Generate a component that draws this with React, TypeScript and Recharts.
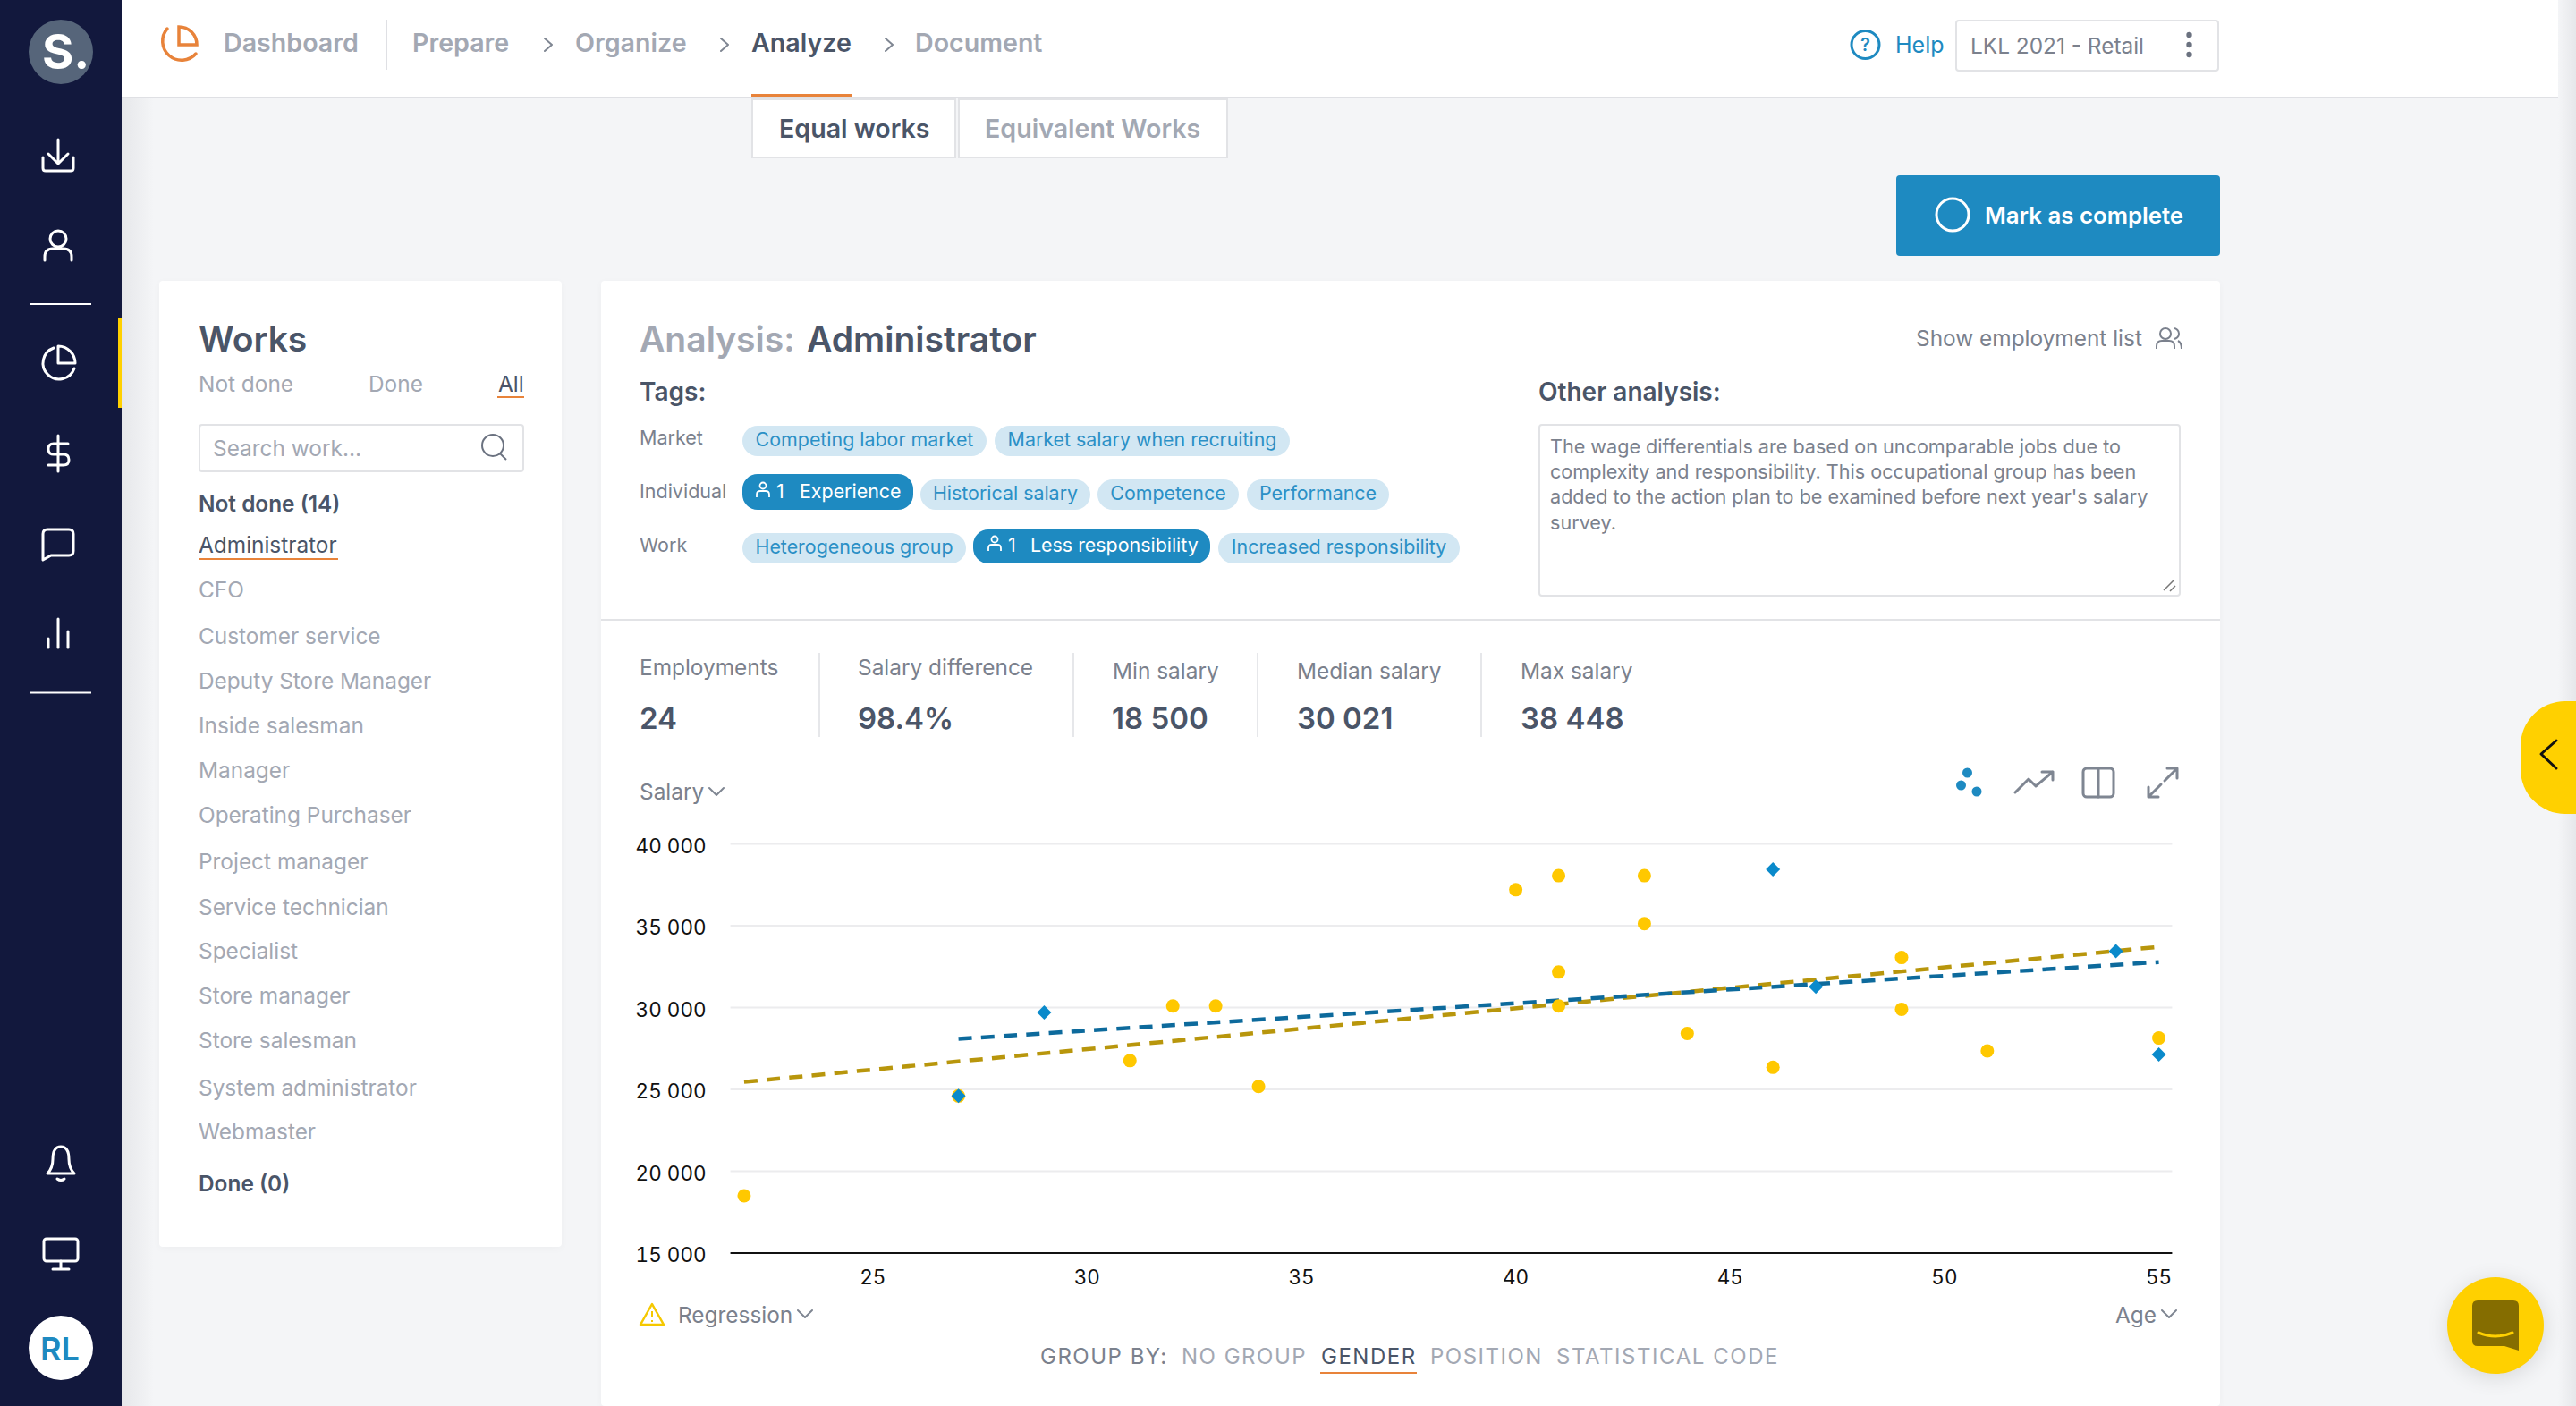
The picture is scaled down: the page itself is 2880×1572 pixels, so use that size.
import React from 'react';
import { ComposedChart, Scatter, Line, XAxis, YAxis, CartesianGrid } from 'recharts';

// Scatter values (age, salary), one pair of lists per group
const yellowAges = [22, 27, 31, 32, 33, 34, 40, 41, 41, 41, 43, 43, 44, 46, 49, 49, 51, 55];
const yellowSalaries = [18500, 24600, 26760, 30100, 30100, 25180, 37200, 38060, 32170, 30100, 38060, 35130, 28420, 26350, 33060, 29900, 27350, 28140];
const blueAges = [27, 29, 46, 47, 54, 55];
const blueSalaries = [24600, 29700, 38448, 31280, 33440, 27140];

// Regression lines, end points only
const yellowTrendAges = [22, 55];
const yellowTrendSalaries = [25460, 33710];
const blueTrendAges = [27, 55];
const blueTrendSalaries = [28090, 32780];

const ageTicks = [25, 30, 35, 40, 45, 50, 55];
const salaryTicks = [15000, 20000, 25000, 30000, 35000, 40000];

const works = ['CFO', 'Customer service', 'Deputy Store Manager', 'Inside salesman', 'Manager', 'Operating Purchaser', 'Project manager', 'Service technician', 'Specialist', 'Store manager', 'Store salesman', 'System administrator', 'Webmaster'];
const workRows = [659, 711, 761, 811, 861, 911, 963, 1014, 1063, 1113, 1163, 1216, 1265];

const toRows = (xs: number[], ys: number[]) => xs.map((age, i) => ({ age, salary: ys[i] }));
const spaced = (v: number) => String(v).replace(/\B(?=(\d{3})+$)/g, ' ');

const FONT = 'Inter, sans-serif';
const DARK = '#4a5568';
const GREY = '#a3a8b3';
const MID = '#7b818d';
const BLUE = '#1e8ac1';
const ORANGE = '#e8833a';
const YELLOW = '#ffd000';

function T({ x, y, s = 24.4, w = 400, c = GREY, ls = 0, children }: any) {
  return (
    <div style={{ position: 'absolute', left: x, top: y, transform: 'translateY(-50%)', fontSize: s, fontWeight: w, color: c, letterSpacing: ls, whiteSpace: 'nowrap', lineHeight: 1 }}>
      {children}
    </div>
  );
}

function Box({ x, y, w, h, style }: any) {
  return <div style={{ position: 'absolute', left: x, top: y, width: w, height: h, boxSizing: 'border-box', ...style }} />;
}

function Pill({ x, y, w, h = 34, dark = false, children }: any) {
  return (
    <div style={{ position: 'absolute', left: x, top: y, width: w, height: h, borderRadius: 17, background: dark ? BLUE : '#d2e7f3', color: dark ? '#fff' : '#2b90c6', fontSize: 21.4, lineHeight: h - 3 + 'px', textAlign: 'center', whiteSpace: 'nowrap' }}>
      {children}
    </div>
  );
}

const Dot = (p: any) => <circle cx={p.cx} cy={p.cy} r={7.5} fill="#ffc800" />;
const Diamond = (p: any) => <path d={`M${p.cx} ${p.cy - 8}L${p.cx + 8} ${p.cy}L${p.cx} ${p.cy + 8}L${p.cx - 8} ${p.cy}Z`} fill="#0a8acb" />;

function Chart() {
  const tickFont = { fill: '#111', fontSize: 22.5, fontFamily: FONT, style: { fontVariantNumeric: 'tabular-nums' } };
  return (
    <div style={{ position: 'absolute', left: 700, top: 920 }}>
      <ComposedChart width={1760} height={560} margin={{ top: 23.6, right: 31.6, bottom: 39, left: 0 }}>
        <CartesianGrid vertical={false} stroke="#ececee" strokeWidth={2} />
        <XAxis type="number" dataKey="age" domain={[21.68, 55.31]} ticks={ageTicks} allowDataOverflow height={40} tickLine={false} tickSize={0} tickMargin={19} axisLine={{ stroke: '#111', strokeWidth: 2 }} tick={tickFont} />
        <YAxis type="number" dataKey="salary" domain={[15000, 40000]} ticks={salaryTicks} width={116.6} axisLine={false} tickLine={false} tickSize={0} tickMargin={27} tickFormatter={spaced} tick={{ ...tickFont, dy: 2 }} />
        <Line data={toRows(yellowTrendAges, yellowTrendSalaries)} dataKey="salary" stroke="#b8960c" strokeWidth={4.5} strokeDasharray="15 10.3" dot={false} isAnimationActive={false} />
        <Line data={toRows(blueTrendAges, blueTrendSalaries)} dataKey="salary" stroke="#0d6a9c" strokeWidth={4.5} strokeDasharray="15 10.3" dot={false} isAnimationActive={false} />
        <Scatter data={toRows(yellowAges, yellowSalaries)} dataKey="salary" shape={Dot} isAnimationActive={false} />
        <Scatter data={toRows(blueAges, blueSalaries)} dataKey="salary" shape={Diamond} isAnimationActive={false} />
      </ComposedChart>
    </div>
  );
}

function Icons() {
  const side = { fill: 'none', stroke: '#fff', strokeWidth: 3, strokeLinecap: 'round', strokeLinejoin: 'round' } as any;
  const grey = { fill: 'none', stroke: '#7f8692', strokeWidth: 3, strokeLinecap: 'round', strokeLinejoin: 'round' } as any;
  const chev = { fill: 'none', stroke: '#7f8692', strokeWidth: 2, strokeLinecap: 'round', strokeLinejoin: 'round' } as any;
  return (
    <svg width={2880} height={1572} style={{ position: 'absolute', left: 0, top: 0 }}>
      {/* sidebar */}
      <g {...side}>
        <path d="M65 156V182M54 172L65 183L76 172M48 176V188Q48 191 51 191H79Q82 191 82 188V176" />
        <circle cx={65} cy={267} r={9} />
        <path d="M50 291V287Q50 278 59 278H71Q80 278 80 287V291" />
        <path d="M60 389A18 18 0 1 0 83 412" />
        <path d="M65 387V406H84A19 19 0 0 0 65 387Z" />
        <path d="M76 496H60Q54 496 54 502Q54 508 60 508H71Q77 508 77 514Q77 520 71 520H54M65 487V527" />
        <path d="M53 592H77Q82 592 82 597V616Q82 621 77 621H57L48 626V597Q48 592 53 592Z" />
        <path d="M54 714V724M65 692V724M76 706V724" />
        <path d="M53 1312H83Q77 1306 77 1296Q77 1282 68 1282Q59 1282 59 1296Q59 1306 53 1312ZM64 1318Q68 1321 72 1318" />
        <rect x={49} y={1385} width={38} height={25} rx={3} />
        <path d="M68 1410V1419M59 1419H77" />
      </g>
      <path d="M34 340H102M34 774.5H102" stroke="#fff" strokeWidth={2} />
      <path d="M187 32A20 20 0 1 0 219 60" fill="none" stroke={ORANGE} strokeWidth={3.5} strokeLinecap="round" />
      <path d="M200 30V50H220A20 20 0 0 0 200 30Z" fill="none" stroke={ORANGE} strokeWidth={3.5} />
      {/* breadcrumb chevrons */}
      <g {...chev}>
        <path d="M609 43L617 50L609 57M806 43L814 50L806 57M990 43L998 50L990 57" />
      </g>
      {/* search, help */}
      <circle cx={551} cy={498} r={12} fill="none" stroke="#6b7280" strokeWidth={2} />
      <path d="M559 507L566 514" stroke="#6b7280" strokeWidth={2} />
      <circle cx={2085.5} cy={50} r={15.5} fill="none" stroke={BLUE} strokeWidth={3} />
      <text x={2085.5} y={57} textAnchor="middle" fontSize={20} fontWeight={600} fill={BLUE} fontFamily={FONT}>?</text>
      <circle cx={2447.5} cy={39} r={3.2} fill="#6b7280" /><circle cx={2447.5} cy={50} r={3.2} fill="#6b7280" /><circle cx={2447.5} cy={61} r={3.2} fill="#6b7280" />
      <circle cx={2183} cy={240} r={18} fill="none" stroke="#fff" strokeWidth={3} />
      {/* employment list */}
      <g fill="none" stroke={MID} strokeWidth={2}>
        <circle cx={2421} cy={373} r={6} />
        <path d="M2411 390V387Q2411 381 2417 381H2425Q2431 381 2431 387V390M2430 367A6 6 0 0 1 2430 379M2435 381Q2439 383 2439 390" />
      </g>
      <path d="M2419 660L2431 648M2426 661L2432 655" stroke="#777" strokeWidth={1.5} />
      {/* person glyphs in the dark tags */}
      <g fill="none" stroke="#fff" strokeWidth={1.8}>
        <circle cx={853} cy={543} r={3.5} />
        <path d="M846 556V553Q846 549 850 549H856Q860 549 860 553V556" />
        <circle cx={1112} cy={603} r={3.5} />
        <path d="M1105 616V613Q1105 609 1109 609H1115Q1119 609 1119 613V616" />
      </g>
      {/* chart toolbar */}
      <circle cx={2199.5} cy={864} r={5.5} fill={BLUE} /><circle cx={2192.5} cy={878} r={5.5} fill={BLUE} /><circle cx={2210} cy={885} r={5.5} fill={BLUE} />
      <g {...grey}>
        <path d="M2253 886L2268 871L2276 879L2295 863M2283 863H2295V872" />
        <rect x={2329} y={859} width={34} height={32} rx={4} />
        <path d="M2346 859V891" />
        <path d="M2402 891L2416 877M2402 880V891H2413M2434 859L2420 873M2423 859H2434V870" />
      </g>
      <g {...chev}>
        <path d="M793 881L801 889L809 881M892 1465L900 1473L908 1465M2417 1465L2425 1473L2433 1465" />
      </g>
      <path d="M729 1458L742 1481H716Z" fill="none" stroke="#f5c800" strokeWidth={2.5} strokeLinejoin="round" />
      <path d="M729 1466V1473M729 1476V1478" stroke="#f5c800" strokeWidth={2} />
      {/* right edge widgets */}
      <path d="M2858 828L2841 843L2858 859" fill="none" stroke="#111" strokeWidth={3} strokeLinecap="round" strokeLinejoin="round" />
      <path d="M2770 1454H2810Q2816 1454 2816 1460V1510L2800 1505H2770Q2764 1505 2764 1499V1460Q2764 1454 2770 1454Z" fill="#856d00" />
      <path d="M2771 1490Q2790 1498 2809 1490" fill="none" stroke={YELLOW} strokeWidth={3} strokeLinecap="round" />
    </svg>
  );
}

export default function App() {
  return (
    <div style={{ position: 'absolute', left: 0, top: 0, width: 2880, height: 1572, overflow: 'hidden', background: '#f4f5f7', fontFamily: FONT }}>
      {/* page shadows */}
      <Box x={136} y={108} w={36} h={1464} style={{ background: 'linear-gradient(90deg,#e6e7ea,#f4f5f7)' }} />
      <Box x={2860} y={0} w={20} h={1572} style={{ background: 'linear-gradient(90deg,#f4f5f7,#e6e7ea)' }} />
      {/* top bar */}
      <Box x={136} y={0} w={2724} h={110} style={{ background: '#fff', borderBottom: '2px solid #dfe0e4' }} />
      <Box x={431} y={22} w={2} h={56} style={{ background: '#dfe0e4' }} />
      <T x={250} y={48} s={28.6} w={600}>Dashboard</T>
      <T x={461} y={48} s={28.6} w={600}>Prepare</T>
      <T x={643} y={48} s={28.6} w={600}>Organize</T>
      <T x={840} y={48} s={28.6} w={600} c={DARK}>Analyze</T>
      <T x={1023} y={48} s={28.6} w={600}>Document</T>
      <Box x={840} y={105} w={112} h={3} style={{ background: ORANGE }} />
      <T x={2119} y={50} s={25} c={BLUE}>Help</T>
      <Box x={2186} y={22} w={295} h={58} style={{ border: '2px solid #e2e3e6', borderRadius: 4, background: '#fff' }} />
      <T x={2203} y={51} c={MID}>LKL 2021 - Retail</T>
      {/* tabs and button */}
      <Box x={840} y={110} w={229} h={67} style={{ background: '#fff', border: '2px solid #e2e3e6' }} />
      <Box x={1071} y={110} w={302} h={67} style={{ background: '#fff', border: '2px solid #e2e3e6' }} />
      <T x={871} y={144} s={28.6} w={600} c={DARK}>Equal works</T>
      <T x={1101} y={144} s={28.6} w={600}>Equivalent Works</T>
      <Box x={2120} y={196} w={362} h={90} style={{ background: BLUE, borderRadius: 4 }} />
      <T x={2219} y={241} s={25.8} w={600} c="#fff">Mark as complete</T>
      {/* sidebar */}
      <Box x={0} y={0} w={136} h={1572} style={{ background: '#12183d' }} />
      <Box x={132} y={356} w={4} h={100} style={{ background: YELLOW }} />
      <Box x={32} y={22} w={72} h={72} style={{ background: '#56657a', borderRadius: '50%' }} />
      <T x={47} y={58} s={54} w={700} c="#fff">S.</T>
      <Box x={32} y={1471} w={72} h={72} style={{ background: '#fff', borderRadius: '50%' }} />
      <T x={45} y={1508} s={36} w={600} c={BLUE}>RL</T>
      {/* works card */}
      <Box x={178} y={314} w={450} h={1080} style={{ background: '#fff', borderRadius: 4, boxShadow: '0 2px 10px rgba(0,0,0,0.03)' }} />
      <T x={222} y={378} s={39} w={600} c={DARK}>Works</T>
      <T x={222} y={429}>Not done</T>
      <T x={412} y={429}>Done</T>
      <T x={557} y={429} c={DARK}>All</T>
      <Box x={556} y={443} w={30} h={2} style={{ background: ORANGE }} />
      <Box x={222} y={474} w={364} h={54} style={{ border: '2px solid #e2e3e6', borderRadius: 4 }} />
      <T x={238} y={501}>Search work…</T>
      <T x={222} y={563} w={600} c={DARK}>Not done (14)</T>
      <T x={222} y={609} c={DARK}>Administrator</T>
      <Box x={222} y={624} w={156} h={2} style={{ background: ORANGE }} />
      {works.map((name, i) => <T key={name} x={222} y={workRows[i]}>{name}</T>)}
      <T x={222} y={1323} w={600} c={DARK}>Done (0)</T>
      {/* analysis card */}
      <Box x={672} y={314} w={1810} h={1258} style={{ background: '#fff', borderRadius: 4, boxShadow: '0 2px 10px rgba(0,0,0,0.03)' }} />
      <T x={715} y={378} s={39} w={600}>Analysis:</T>
      <T x={902} y={378} s={39} w={600} c={DARK}>Administrator</T>
      <T x={2142} y={378} c={MID}>Show employment list</T>
      <T x={715} y={438} s={28} w={600} c={DARK}>Tags:</T>
      <T x={1720} y={438} s={28} w={600} c={DARK}>Other analysis:</T>
      <T x={715} y={490} s={21.5} c={MID}>Market</T>
      <T x={715} y={550} s={21.5} c={MID}>Individual</T>
      <T x={715} y={610} s={21.5} c={MID}>Work</T>
      <Pill x={830} y={476} w={273}>Competing labor market</Pill>
      <Pill x={1112} y={476} w={330}>Market salary when recruiting</Pill>
      <Pill x={830} y={530} w={191} h={40} dark />
      <T x={868} y={550} s={21.4} c="#fff">1</T>
      <T x={894} y={550} s={21.4} c="#fff">Experience</T>
      <Pill x={1029} y={536} w={190}>Historical salary</Pill>
      <Pill x={1227} y={536} w={158}>Competence</Pill>
      <Pill x={1394} y={536} w={159}>Performance</Pill>
      <Pill x={830} y={596} w={250}>Heterogeneous group</Pill>
      <Pill x={1088} y={592} w={265} h={38} dark />
      <T x={1127} y={610} s={21.4} c="#fff">1</T>
      <T x={1152} y={610} s={21.4} c="#fff">Less responsibility</T>
      <Pill x={1362} y={596} w={270}>Increased responsibility</Pill>
      <Box x={1720} y={474} w={718} h={193} style={{ border: '2px solid #e2e3e6', borderRadius: 4 }} />
      <T x={1733} y={500} s={21.6} c={MID}>The wage differentials are based on uncomparable jobs due to</T>
      <T x={1733} y={528} s={21.6} c={MID}>complexity and responsibility. This occupational group has been</T>
      <T x={1733} y={556} s={21.6} c={MID}>added to the action plan to be examined before next year's salary</T>
      <T x={1733} y={585} s={21.6} c={MID}>survey.</T>
      <Box x={672} y={692} w={1810} h={2} style={{ background: '#e2e3e6' }} />
      {/* stats */}
      <T x={715} y={746} c={MID}>Employments</T>
      <T x={959} y={746} c={MID}>Salary difference</T>
      <T x={1244} y={750} c={MID}>Min salary</T>
      <T x={1450} y={750} c={MID}>Median salary</T>
      <T x={1700} y={750} c={MID}>Max salary</T>
      <T x={715} y={803} s={33} w={600} c={DARK}>24</T>
      <T x={959} y={803} s={33} w={600} c={DARK}>98.4%</T>
      <T x={1243} y={803} s={33} w={600} c={DARK}>18 500</T>
      <T x={1450} y={803} s={33} w={600} c={DARK}>30 021</T>
      <T x={1700} y={803} s={33} w={600} c={DARK}>38 448</T>
      {[915, 1199, 1405, 1655].map((x) => <Box key={x} x={x} y={730} w={2} h={94} style={{ background: '#e6e7ea' }} />)}
      {/* chart and its controls */}
      <T x={715} y={885} c={MID}>Salary</T>
      <Chart />
      <T x={758} y={1470} c={MID}>Regression</T>
      <T x={2365} y={1470} c={MID}>Age</T>
      <T x={1163} y={1517} s={24} ls={1.5} c={MID}>GROUP BY:</T>
      <T x={1321} y={1517} s={24} ls={1.5}>NO GROUP</T>
      <T x={1477} y={1517} s={24} ls={1.5} c={DARK}>GENDER</T>
      <Box x={1476} y={1534} w={108} h={2} style={{ background: ORANGE }} />
      <T x={1599} y={1517} s={24} ls={1.5}>POSITION</T>
      <T x={1740} y={1517} s={24} ls={1.55}>STATISTICAL CODE</T>
      {/* right widgets */}
      <Box x={2818} y={784} w={62} h={126} style={{ background: YELLOW, borderRadius: '50px 0 0 50px' }} />
      <Box x={2736} y={1428} w={108} h={108} style={{ background: YELLOW, borderRadius: '50%', boxShadow: '0 4px 24px rgba(0,0,0,0.12)' }} />
      <Icons />
    </div>
  );
}
